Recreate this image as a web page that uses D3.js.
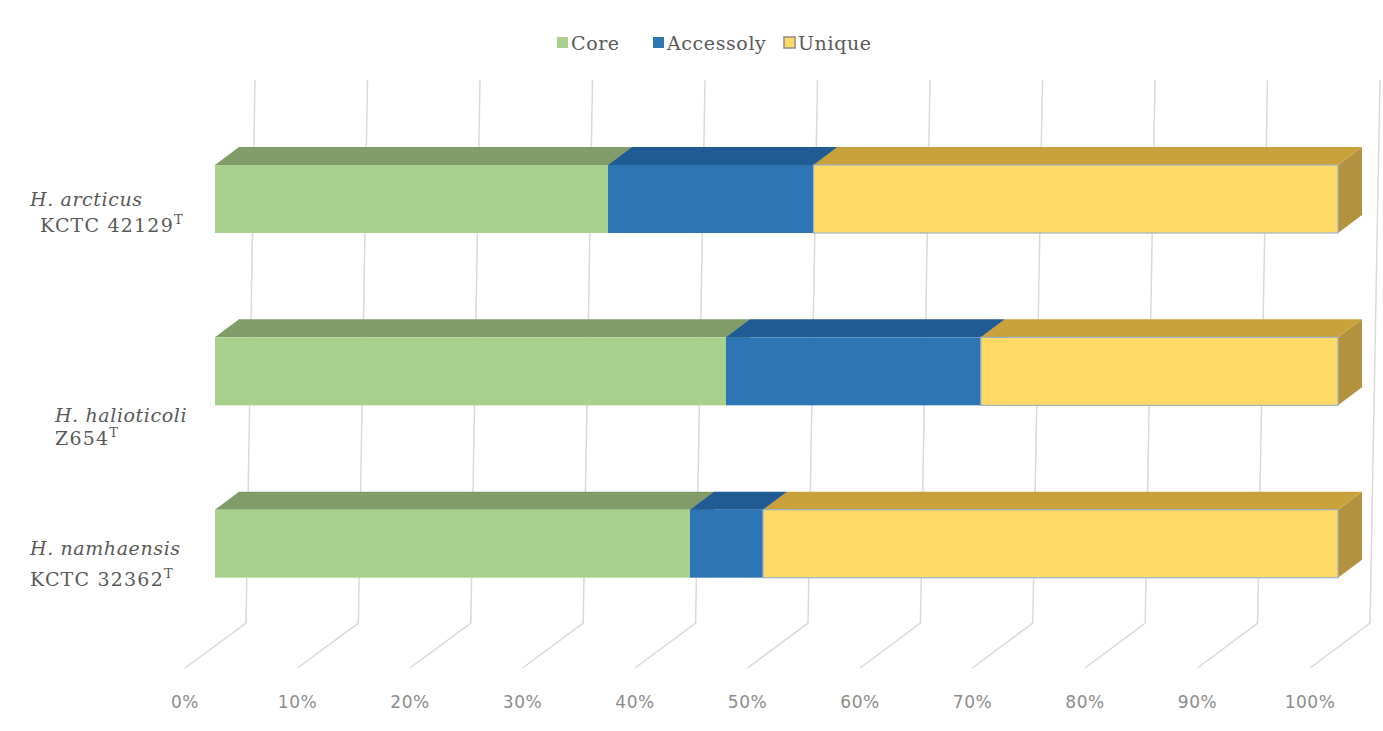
<!DOCTYPE html>
<html>
<head>
<meta charset="utf-8">
<script src="https://cdn.jsdelivr.net/npm/d3@7"></script>
<style>
  html, body { margin: 0; padding: 0; background: #ffffff; }
  svg { display: block; }
</style>
</head>
<body>
<script>
// ---------- data ----------
const categories = ["H. arcticus", "H. halioticoli", "H. namhaensis"];
const strains = ["KCTC 42129", "Z654", "KCTC 32362"];
const seriesNames = ["Core", "Accessoly", "Unique"];
const coreValues = [0.350, 0.455, 0.423];
const accessolyValues = [0.183, 0.227, 0.065];
const uniqueValues = [0.467, 0.318, 0.512];
const tickValues = [0, 0.1, 0.2, 0.3, 0.4, 0.5, 0.6, 0.7, 0.8, 0.9, 1.0];
const tickLabels = ["0%", "10%", "20%", "30%", "40%", "50%", "60%", "70%", "80%", "90%", "100%"];

// ---------- styles ----------
const frontColors = ["#a9d18e", "#2e75b6", "#ffd966"];
const topColors = ["#819c69", "#205b93", "#c9a23c"];
const sideColors = ["#6f8a5a", "#1b4d7d", "#b3923f"];

const W = 1383, H = 731;
const svg = d3.select("body").append("svg").attr("width", W).attr("height", H);

// scales
const x = d3.scaleLinear().domain([0, 1]).range([215, 1338]);
const xBackTop = d3.scaleLinear().domain([0, 1]).range([255, 1380]);
const xBackBottom = d3.scaleLinear().domain([0, 1]).range([246, 1370]);
const xFloorFront = d3.scaleLinear().domain([0, 1]).range([185, 1310]);
const y = d3.scaleBand().domain(categories).range([165, 682]);
const barH = 68;
const dx = 24, dy = -18;
const wallTop = 80, wallBottom = 623, floorFront = 668;

// gridlines (back wall + floor)
const grid = svg.append("g").attr("fill", "none").attr("stroke", "#d9d9d9").attr("stroke-width", 1.5);
tickValues.forEach(v => {
  grid.append("path").attr("d",
    `M${xBackTop(v)},${wallTop} L${xBackBottom(v)},${wallBottom} L${xFloorFront(v)},${floorFront}`);
});

// tick labels
svg.append("g").selectAll("text").data(tickValues).join("text")
  .attr("x", d => xFloorFront(d))
  .attr("y", 708)
  .attr("text-anchor", "middle")
  .attr("font-family", "'DejaVu Sans', sans-serif")
  .attr("font-size", 17)
  .attr("letter-spacing", 0.5)
  .attr("fill", "#8c8c8c")
  .text((d, i) => tickLabels[i]);

// stacked data
const rows = categories.map((c, i) => ({
  cat: c,
  vals: [coreValues[i], accessolyValues[i], uniqueValues[i]]
}));

const bars = svg.append("g");
rows.forEach(r => {
  const yTop = y(r.cat);
  const yBot = yTop + barH;
  let acc = 0;
  const g = bars.append("g");
  r.vals.forEach((v, k) => {
    const x0 = x(acc), x1 = x(acc + v);
    acc += v;
    g.append("path")
      .attr("d", `M${x1},${yTop} L${x1 + dx},${yTop + dy} L${x1 + dx},${yBot + dy} L${x1},${yBot} Z`)
      .attr("fill", sideColors[k]);
    g.append("path")
      .attr("d", `M${x0},${yTop} L${x0 + dx},${yTop + dy} L${x1 + dx},${yTop + dy} L${x1},${yTop} Z`)
      .attr("fill", topColors[k]);
    g.append("rect")
      .attr("x", x0).attr("y", yTop)
      .attr("width", x1 - x0).attr("height", barH)
      .attr("fill", frontColors[k])
      .attr("stroke", k === 2 ? "#9db3c6" : "none")
      .attr("stroke-width", k === 2 ? 1.2 : 0);
  });
});

// category labels (layout offsets)
const labelX1 = [30, 55, 30];
const labelX2 = [40, 55, 30];
const line1Y = [206, 422, 555];
const line2Y = [232, 445, 586];
const serif = "'DejaVu Serif', 'Liberation Serif', serif";
const lab = svg.append("g").attr("font-family", serif).attr("fill", "#595959");
categories.forEach((c, i) => {
  lab.append("text")
    .attr("x", labelX1[i]).attr("y", line1Y[i])
    .attr("font-size", 19).attr("font-style", "italic").attr("letter-spacing", 0.6)
    .text(c);
  const t = lab.append("text")
    .attr("x", labelX2[i]).attr("y", line2Y[i])
    .attr("font-size", 19).attr("letter-spacing", 1.2);
  t.append("tspan").text(strains[i]);
  t.append("tspan").attr("dy", -8).attr("font-size", 13).attr("letter-spacing", 0).text("T");
});

// legend
const legendX = [557, 653, 784];
const leg = svg.append("g").attr("font-family", serif).attr("font-size", 19).attr("fill", "#595959");
seriesNames.forEach((s, i) => {
  leg.append("rect").attr("x", legendX[i]).attr("y", 37).attr("width", 11).attr("height", 11)
    .attr("fill", frontColors[i])
    .attr("stroke", i === 2 ? "#8c8c8c" : "none").attr("stroke-width", i === 2 ? 1.5 : 0);
  leg.append("text").attr("x", legendX[i] + 14).attr("y", 50).attr("letter-spacing", 0.6).text(s);
});
</script>
</body>
</html>
